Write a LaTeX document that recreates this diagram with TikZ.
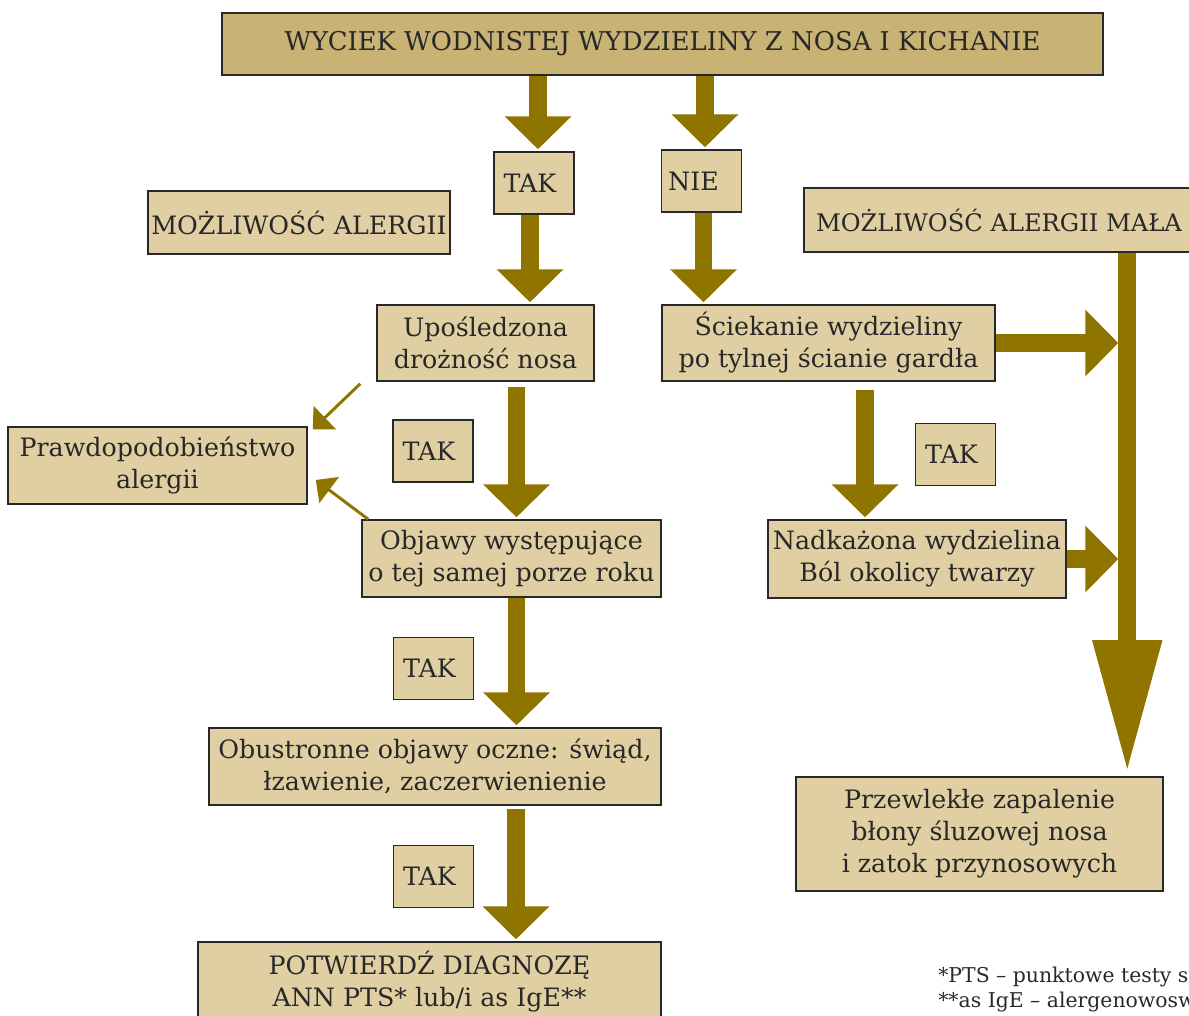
\documentclass[tikz,border=0pt]{standalone}
\usepackage{fontspec}
\setmainfont{DejaVu Serif}
\usetikzlibrary{arrows.meta,calc}

\definecolor{headtan}{RGB}{200,178,116}
\definecolor{boxtan}{RGB}{223,207,162}
\definecolor{arrowgold}{RGB}{143,117,0}
\definecolor{inkgray}{RGB}{40,40,40}

\begin{document}
\begin{tikzpicture}[x=0.025cm, y=-0.025cm,
  box/.style={draw=inkgray, line width=1pt, fill=boxtan, text=inkgray,
    align=center, inner sep=0pt, font=\fontsize{18}{22.7}\selectfont},
  headbox/.style={box, fill=headtan, font=\fontsize{18.4}{22.7}\selectfont},
  takbox/.style={box, minimum width=2cm, minimum height=1.55cm,
    execute at end node={\hspace{0.2cm}}},
  bigarrow/.style={arrowgold, line width=0.44cm,
    -{Triangle[width=1.625cm,length=0.825cm]}, shorten >=0.05cm},
  longarrow/.style={bigarrow, -{Triangle[width=1.625cm,length=3.3cm]}},
  thinarrow/.style={arrowgold, line width=2.1pt,
    -{Triangle[width=0.8cm,length=0.42cm]}}]

  \useasboundingbox (0,0) rectangle (1189,1016);
  \clip (0,0) rectangle (1189,1016);

  % nodes
  \node[headbox, minimum width=22.025cm, minimum height=1.55cm] (head) at (662.5,44)
    {WYCIEK WODNISTEJ WYDZIELINY Z NOSA I KICHANIE};
  \node[takbox] (tak1) at (534,183) {TAK};
  \node[takbox] (nie) at (701.5,181) {NIE\hspace{0.2cm}};
  \node[box, minimum width=7.55cm, minimum height=1.575cm] (mozl) at (299,222.5)
    {MOŻLIWOŚĆ ALERGII};
  \node[box, minimum width=9.75cm, minimum height=1.6cm,
    font=\fontsize{17.2}{22.7}\selectfont] (mala) at (999,220)
    {MOŻLIWOŚĆ ALERGII MAŁA};
  \node[box, minimum width=5.425cm, minimum height=1.9cm] (upos) at (485.5,343)
    {Upośledzona\\drożność nosa};
  \node[box, minimum width=8.325cm, minimum height=1.9cm] (scie) at (828.5,343)
    {Ściekanie wydzieliny\\po tylnej ścianie gardła};
  \node[box, minimum width=7.475cm, minimum height=1.925cm] (prawd) at (157.5,465.5)
    {Prawdopodobieństwo\\alergii};
  \node[takbox] (tak2) at (433,451) {TAK};
  \node[takbox] (tak3) at (955.5,454.5) {TAK};
  \node[box, minimum width=7.475cm, minimum height=1.925cm] (objawy) at (511.5,558.5)
    {Objawy występujące\\o tej samej porze roku};
  \node[box, minimum width=7.45cm, minimum height=1.95cm] (nadk) at (917,559)
    {Nadkażona wydzielina\\Ból okolicy twarzy};
  \node[takbox] (tak4) at (433.5,668.5) {TAK};
  \node[box, minimum width=11.3cm, minimum height=1.925cm] (obus) at (435,766.5)
    {Obustronne objawy oczne: świąd,\\łzawienie, zaczerwienienie};
  \node[box, minimum width=9.175cm, minimum height=2.85cm] (przew) at (979.5,834)
    {Przewlekłe zapalenie\\błony śluzowej nosa\\i zatok przynosowych};
  \node[takbox] (tak5) at (433.5,876.5) {TAK};
  \node[box, minimum width=11.575cm, minimum height=2cm] (potw) at (429.5,982)
    {POTWIERDŹ DIAGNOZĘ\\ANN PTS* lub/i as IgE**};
  \node[anchor=north west, inner sep=0pt, align=left, text=inkgray,
    font=\fontsize{14.5}{17.7}\selectfont] (note) at (938,966)
    {*PTS – punktowe testy skórne\\**as IgE – alergenowoswoiste IgE};

  \coordinate (trunk) at ($(mala.south west)+(324,0)$);

  % arrows
  \draw[bigarrow] ($(tak1.north |- head.south)+(4,0)$) -- ($(tak1.north)+(4,0)$);
  \draw[bigarrow] ($(nie.north |- head.south)+(3.5,0)$) -- ($(nie.north)+(3.5,0)$);
  \draw[bigarrow] ($(tak1.south)+(-4,0)$) -- ($(tak1.south |- upos.north)+(-4,0)$);
  \draw[bigarrow] ($(nie.south)+(2,0)$) -- ($(nie.south |- scie.north)+(2,0)$);
  \draw[bigarrow] ($(objawy.north |- upos.south)+(5,5)$) -- ($(objawy.north)+(5,0)$);
  \draw[bigarrow] ($(nadk.north |- scie.south)+(-52,8)$) -- ($(nadk.north)+(-52,0)$);
  \draw[bigarrow] ($(objawy.south)+(5,0)$) -- ($(objawy.south |- obus.north)+(5,0)$);
  \draw[bigarrow] ($(obus.south)+(81,3)$) -- ($(obus.south |- potw.north)+(81,0)$);
  \draw[longarrow, shorten >=0.1cm] (trunk) -- (trunk |- przew.north);
  \draw[bigarrow, shorten >=0pt] (scie.east) -- ($(scie.east -| trunk)+(-9,0)$);
  \draw[bigarrow, shorten >=0pt] (nadk.east) -- ($(nadk.east -| trunk)+(-9,0)$);
  \draw[thinarrow] ($(upos.south west)+(-16,2)$) -- ($(prawd.north east)+(5,3)$);
  \draw[thinarrow] ($(objawy.north west)+(7,0)$) -- ($(prawd.east)+(8,14.5)$);

\end{tikzpicture}
\end{document}
